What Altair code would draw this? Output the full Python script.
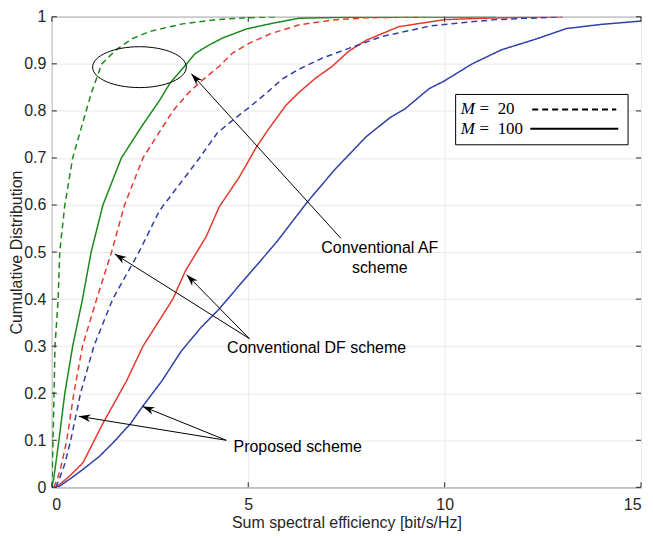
import math
import altair as alt
import pandas as pd

# ---------------- data ----------------
af20_x = [0, 0.03, 0.08, 0.16, 0.2, 0.33, 0.53, 0.79, 1.01, 1.27, 1.65, 2.06, 2.49, 3.33, 4.19, 4.95, 5.7]
af20_y = [0, 0.1, 0.3, 0.4, 0.5, 0.6, 0.7, 0.776, 0.839, 0.9, 0.931, 0.954, 0.969, 0.985, 0.994, 0.998, 1.0]

af100_x = [0, 0.05, 0.18, 0.33, 0.53, 0.78, 1.0, 1.3, 1.77, 2.31, 2.74, 3.0, 3.43, 3.65, 4.0, 4.35, 4.95, 5.6, 6.3, 7.5, 11.3]
af100_y = [0, 0.02, 0.1, 0.2, 0.3, 0.4, 0.5, 0.6, 0.7, 0.77, 0.822, 0.858, 0.9, 0.922, 0.94, 0.955, 0.974, 0.986, 0.997, 0.999, 1.0]

df20_x = [0.05, 0.15, 0.25, 0.38, 0.56, 0.78, 1.14, 1.52, 1.85, 2.32, 2.7, 3.08, 3.5, 3.76, 4.26, 4.6, 5.03, 5.6, 6.3, 7.14, 8.0, 9.5]
df20_y = [0, 0.02, 0.05, 0.1, 0.2, 0.3, 0.4, 0.5, 0.6, 0.7, 0.75, 0.8, 0.84, 0.86, 0.895, 0.923, 0.944, 0.965, 0.983, 0.993, 0.998, 1.0]

df100_x = [0.1, 0.4, 0.79, 1.3, 1.9, 2.32, 2.7, 3.08, 3.4, 3.93, 4.26, 4.77, 5.2, 5.53, 5.96, 6.3, 6.72, 7.14, 7.56, 8.0, 8.83, 10.0, 11.0, 12.0, 13.0]
df100_y = [0, 0.02, 0.052, 0.136, 0.226, 0.3, 0.35, 0.4, 0.46, 0.533, 0.596, 0.659, 0.722, 0.763, 0.812, 0.84, 0.87, 0.895, 0.927, 0.95, 0.979, 0.994, 0.997, 0.999, 1.0]

pr20_x = [0.1, 0.2, 0.33, 0.48, 0.73, 1.07, 1.55, 2.23, 2.74, 3.25, 3.76, 4.21, 4.6, 5.03, 5.45, 5.87, 6.3, 6.88, 7.56, 8.4, 9.67, 10.5, 11.3, 12.2, 13.0]
pr20_y = [0, 0.02, 0.05, 0.1, 0.2, 0.3, 0.4, 0.502, 0.588, 0.644, 0.70, 0.753, 0.78, 0.808, 0.837, 0.868, 0.889, 0.912, 0.933, 0.958, 0.981, 0.988, 0.994, 0.997, 1.0]

pr100_x = [0.15, 0.5, 0.79, 1.2, 1.55, 2.0, 2.31, 2.8, 3.3, 3.8, 4.26, 4.77, 5.7, 6.5, 7.2, 8.0, 8.6, 9.0, 9.6, 10.0, 10.7, 11.45, 12.3, 13.1, 14.0, 15.0]
pr100_y = [0, 0.02, 0.038, 0.065, 0.094, 0.135, 0.172, 0.226, 0.29, 0.34, 0.379, 0.429, 0.519, 0.606, 0.675, 0.745, 0.785, 0.805, 0.847, 0.864, 0.90, 0.93, 0.952, 0.975, 0.984, 0.991]

x_ticks = [0, 5, 10, 15]
y_ticks = [0, 0.1, 0.2, 0.3, 0.4, 0.5, 0.6, 0.7, 0.8, 0.9, 1.0]

GREEN, RED, BLUE = "#1b8a1b", "#e53a2e", "#3040a8"
series = [
    ("af20", af20_x, af20_y, GREEN, "M20"),
    ("af100", af100_x, af100_y, GREEN, "M100"),
    ("df20", df20_x, df20_y, RED, "M20"),
    ("df100", df100_x, df100_y, RED, "M100"),
    ("pr20", pr20_x, pr20_y, BLUE, "M20"),
    ("pr100", pr100_x, pr100_y, BLUE, "M100"),
]
rows = []
for name, xs_, ys_, col, m in series:
    for a, b in zip(xs_, ys_):
        rows.append({"s": name, "x": a, "y": b, "col": col, "m": m})
curves = pd.DataFrame(rows)

# ---------------- layout ----------------
W, H = 591, 472
PX_X = W / 15.0
PX_Y = H / 1.0
FONT = "Liberation Sans"
AXC = "#262626"

xs = alt.Scale(domain=[0, 15], nice=False, zero=False)
ys = alt.Scale(domain=[0, 1], nice=False, zero=False)
XT = "Sum spectral efficiency [bit/s/Hz]"
YT = "Cumulative Distribution"
xax = alt.Axis(values=x_ticks, grid=True, ticks=False, domain=False,
               labelPadding=9, titleY=35, titleBaseline="middle")
yax = alt.Axis(values=y_ticks, grid=True, ticks=False, domain=False,
               labelPadding=6, format="~g", titleX=-35, titleY=H / 2,
               titleBaseline="middle", titleAlign="center")


def X(f):
    return alt.X(f, scale=xs, axis=xax, title=XT)


def Y(f):
    return alt.Y(f, scale=ys, axis=yax, title=YT)


lines = alt.Chart(curves).mark_line(strokeWidth=1.5, clip=True).encode(
    x=X("x:Q"), y=Y("y:Q"),
    color=alt.Color("col:N", scale=None, legend=None),
    strokeDash=alt.StrokeDash("m:N", scale=alt.Scale(domain=["M20", "M100"], range=[[6, 4], [1, 0]]), legend=None),
    detail="s:N",
)

# tick marks (inward, MATLAB style)
ytk = pd.DataFrame({"y": y_ticks})
xtk = pd.DataFrame({"x": x_ticks})
tick_l = alt.Chart(ytk).mark_rule(color=AXC, strokeWidth=1).encode(
    y=Y("y:Q"), x=alt.value(0), x2=alt.value(5))
tick_r = alt.Chart(ytk).mark_rule(color=AXC, strokeWidth=1).encode(
    y=Y("y:Q"), x=alt.value(W), x2=alt.value(W - 5))
tick_b = alt.Chart(xtk).mark_rule(color=AXC, strokeWidth=1).encode(
    x=X("x:Q"), y=alt.value(H), y2=alt.value(H - 5))
tick_t = alt.Chart(xtk).mark_rule(color=AXC, strokeWidth=1).encode(
    x=X("x:Q"), y=alt.value(0), y2=alt.value(5))

# annotation arrows: (tail_x, tail_y, tip_x, tip_y)
arrows = [
    (7.36, 0.529, 3.55, 0.879),
    (5.03, 0.316, 1.60, 0.496),
    (5.03, 0.316, 3.43, 0.452),
    (4.44, 0.100, 0.685, 0.151),
    (4.44, 0.100, 2.31, 0.172),
]
arr_rows = []
head_rows = []
for x0, y0, x1, y1 in arrows:
    arr_rows.append({"x": x0, "y": y0, "x2": x1, "y2": y1})
    dx = (x1 - x0) * PX_X
    dy = -(y1 - y0) * PX_Y
    ang = math.degrees(math.atan2(dx, -dy)) % 360
    head_rows.append({"x": x1, "y": y1, "a": ang})
arr_df = pd.DataFrame(arr_rows)
head_df = pd.DataFrame(head_rows)

arrow_lines = alt.Chart(arr_df).mark_rule(color="black", strokeWidth=1).encode(
    x=X("x:Q"), y=Y("y:Q"), x2="x2:Q", y2="y2:Q")
HEAD = "M0,0 L0.55,1.7 L0,1.2 L-0.55,1.7 Z"
arrow_heads = alt.Chart(head_df).mark_point(shape=HEAD, filled=True, color="black",
                                            size=196, opacity=1, strokeWidth=0).encode(
    x=X("x:Q"), y=Y("y:Q"), angle=alt.Angle("a:Q", scale=None))

# ellipse
k = 0.436
c = 0.5523
ck = c * k
ELL = (f"M-1,0 C-1,{-ck:.4f} {-c},{-k} 0,{-k} C{c},{-k} 1,{-ck:.4f} 1,0 "
       f"C1,{ck:.4f} {c},{k} 0,{k} C{-c},{k} -1,{ck:.4f} -1,0 Z")
ell_df = pd.DataFrame({"x": [2.23], "y": [0.893]})
ellipse = alt.Chart(ell_df).mark_point(shape=ELL, filled=False, color="black", size=94 ** 2,
                                       strokeWidth=1, opacity=1).encode(x=X("x:Q"), y=Y("y:Q"))

# annotation labels
lab_df = pd.DataFrame({
    "x": [8.35, 8.35, 6.74, 6.26],
    "y": [0.508, 0.467, 0.297, 0.086],
    "t": ["Conventional AF", "scheme", "Conventional DF scheme", "Proposed scheme"],
})
labels = alt.Chart(lab_df).mark_text(font=FONT, fontSize=16, color="black",
                                     align="center", baseline="middle").encode(
    x=X("x:Q"), y=Y("y:Q"), text="t:N")

# legend box
box_df = pd.DataFrame({"x": [10.28], "x2": [14.67], "y": [0.835], "y2": [0.728]})
box = alt.Chart(box_df).mark_rect(fill="white", stroke="black", strokeWidth=1).encode(
    x=X("x:Q"), x2="x2:Q", y=Y("y:Q"), y2="y2:Q")
leg_lines_df = pd.DataFrame({"x": [12.23, 12.18], "x2": [14.37, 14.42], "y": [0.803, 0.762],
                             "m": ["M20", "M100"]})
leg_lines = alt.Chart(leg_lines_df).mark_rule(color="black", strokeWidth=2).encode(
    x=X("x:Q"), x2="x2:Q", y=Y("y:Q"),
    strokeDash=alt.StrokeDash("m:N", scale=alt.Scale(domain=["M20", "M100"], range=[[6, 4], [1, 0]]), legend=None))
leg_m_df = pd.DataFrame({"x": [10.41, 10.41], "y": [0.803, 0.762], "t": ["M", "M"]})
leg_m = alt.Chart(leg_m_df).mark_text(font="Liberation Serif", fontStyle="italic", fontSize=17,
                                      color="black", align="left", baseline="middle").encode(
    x=X("x:Q"), y=Y("y:Q"), text="t:N")
leg_eq_df = pd.DataFrame({"x": [10.89, 10.89], "y": [0.803, 0.762], "t": ["=", "="]})
leg_eq = alt.Chart(leg_eq_df).mark_text(font="Liberation Serif", fontSize=17,
                                        color="black", align="left", baseline="middle").encode(
    x=X("x:Q"), y=Y("y:Q"), text="t:N")
leg_n_df = pd.DataFrame({"x": [11.35, 11.35], "y": [0.803, 0.762], "t": ["20", "100"]})
leg_n = alt.Chart(leg_n_df).mark_text(font="Liberation Serif", fontSize=17,
                                      color="black", align="left", baseline="middle").encode(
    x=X("x:Q"), y=Y("y:Q"), text="t:N")

chart = alt.layer(
    lines, tick_l, tick_r, tick_b, tick_t,
    arrow_lines, arrow_heads, ellipse, labels,
    box, leg_lines, leg_m, leg_eq, leg_n,
).properties(
    width=W, height=H,
    autosize=alt.AutoSizeParams(type="none"),
    padding={"left": 44, "top": 8, "right": 4, "bottom": 50},
).configure_view(
    stroke=AXC, strokeWidth=1
).configure_axis(
    labelFont=FONT, labelFontSize=16, labelColor=AXC,
    titleFont=FONT, titleFontSize=16, titleColor=AXC, titleFontWeight="normal",
    gridColor="#e8e8e8", gridWidth=1,
)

chart.save("out.html", embed_options={"renderer": "svg", "actions": False})
